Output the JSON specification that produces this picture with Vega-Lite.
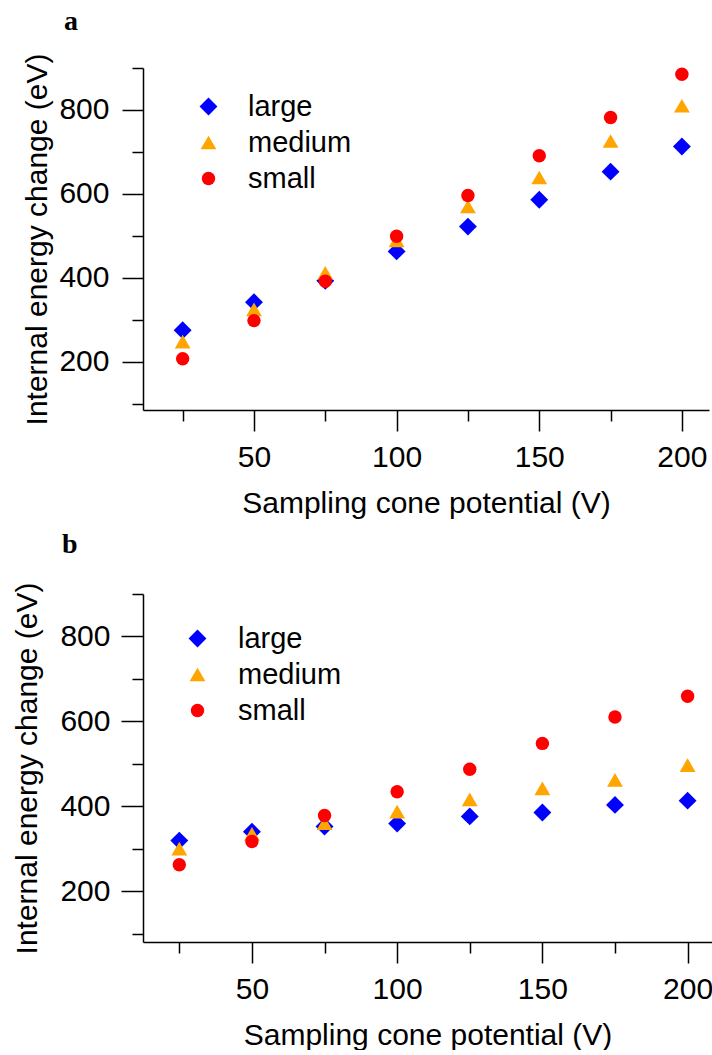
{
  "$schema": "https://vega.github.io/schema/vega-lite/v6.json",
  "padding": {"left": 12, "top": 8, "right": 0, "bottom": 0},
  "bounds": "flush",
  "spacing": 184,
  "datasets": {
    "panelA": [
      {"V": 25, "E": 275, "series": "large"},
      {"V": 50, "E": 342, "series": "large"},
      {"V": 75, "E": 393, "series": "large"},
      {"V": 100, "E": 463, "series": "large"},
      {"V": 125, "E": 522, "series": "large"},
      {"V": 150, "E": 586, "series": "large"},
      {"V": 175, "E": 653, "series": "large"},
      {"V": 200, "E": 713, "series": "large"},
      {"V": 25, "E": 248, "series": "medium"},
      {"V": 50, "E": 325, "series": "medium"},
      {"V": 75, "E": 412, "series": "medium"},
      {"V": 100, "E": 489, "series": "medium"},
      {"V": 125, "E": 570, "series": "medium"},
      {"V": 150, "E": 639, "series": "medium"},
      {"V": 175, "E": 726, "series": "medium"},
      {"V": 200, "E": 810, "series": "medium"},
      {"V": 25, "E": 207, "series": "small"},
      {"V": 50, "E": 298, "series": "small"},
      {"V": 75, "E": 392, "series": "small"},
      {"V": 100, "E": 499, "series": "small"},
      {"V": 125, "E": 596, "series": "small"},
      {"V": 150, "E": 691, "series": "small"},
      {"V": 175, "E": 782, "series": "small"},
      {"V": 200, "E": 885, "series": "small"}
    ],
    "panelB": [
      {"V": 25, "E": 319, "series": "large"},
      {"V": 50, "E": 340, "series": "large"},
      {"V": 75, "E": 352, "series": "large"},
      {"V": 100, "E": 359, "series": "large"},
      {"V": 125, "E": 376, "series": "large"},
      {"V": 150, "E": 385, "series": "large"},
      {"V": 175, "E": 403, "series": "large"},
      {"V": 200, "E": 413, "series": "large"},
      {"V": 25, "E": 300, "series": "medium"},
      {"V": 50, "E": 335, "series": "medium"},
      {"V": 75, "E": 360, "series": "medium"},
      {"V": 100, "E": 387, "series": "medium"},
      {"V": 125, "E": 416, "series": "medium"},
      {"V": 150, "E": 442, "series": "medium"},
      {"V": 175, "E": 462, "series": "medium"},
      {"V": 200, "E": 497, "series": "medium"},
      {"V": 25, "E": 262, "series": "small"},
      {"V": 50, "E": 317, "series": "small"},
      {"V": 75, "E": 378, "series": "small"},
      {"V": 100, "E": 434, "series": "small"},
      {"V": 125, "E": 487, "series": "small"},
      {"V": 150, "E": 548, "series": "small"},
      {"V": 175, "E": 610, "series": "small"},
      {"V": 200, "E": 659, "series": "small"}
    ]
  },
  "config": {
    "font": "Liberation Sans",
    "view": {"stroke": null},
    "axis": {
      "grid": false,
      "domainColor": "#000000",
      "domainWidth": 1.5,
      "tickColor": "#000000",
      "tickWidth": 1.5,
      "labelFont": "Liberation Sans",
      "labelFontSize": 30,
      "labelColor": "#000000",
      "titleFont": "Liberation Sans",
      "titleFontSize": 30,
      "titleFontWeight": "normal",
      "titleColor": "#000000",
      "labelOverlap": false
    },
    "legend": {
      "labelFont": "Liberation Sans",
      "labelFontSize": 29,
      "labelColor": "#000000",
      "padding": 0,
      "rowPadding": 6
    },
    "title": {
      "font": "Liberation Serif",
      "fontWeight": "bold",
      "fontSize": 28,
      "color": "#000000",
      "anchor": "start",
      "frame": "group",
      "baseline": "alphabetic"
    }
  },
  "resolve": {
    "scale": {"color": "independent", "shape": "independent", "size": "independent"},
    "legend": {"color": "independent", "shape": "independent", "size": "independent"}
  },
  "vconcat": [
    {
      "width": 566,
      "height": 342,
      "title": {"text": "a", "dx": -79, "offset": 17},
      "data": {"name": "panelA"},
      "mark": {"type": "point", "filled": true, "opacity": 1, "strokeWidth": 0},
      "encoding": {
        "x": {
          "field": "V", "type": "quantitative",
          "scale": {"domain": [11.1, 209.5], "nice": false, "zero": false},
          "axis": {
            "title": "Sampling cone potential (V)",
            "values": [25, 50, 75, 100, 125, 150, 175, 200],
            "tickSize": {"condition": {"test": "datum.value % 50 === 0", "value": 21}, "value": 11},
            "labelExpr": "datum.value % 50 === 0 ? datum.label : ''",
            "labelPadding": 11,
            "titlePadding": 16
          }
        },
        "y": {
          "field": "E", "type": "quantitative",
          "scale": {"domain": [85, 900], "nice": false, "zero": false},
          "axis": {
            "title": "Internal energy change (eV)",
            "values": [100, 200, 300, 400, 500, 600, 700, 800, 900],
            "tickSize": {"condition": {"test": "datum.value % 200 === 0", "value": 21}, "value": 11},
            "labelExpr": "datum.value % 200 === 0 ? datum.label : ''",
            "labelPadding": 13,
            "titlePadding": 6
          }
        },
        "color": {
          "field": "series", "type": "nominal",
          "scale": {"domain": ["large", "medium", "small"], "range": ["#0000ff", "#ffa500", "#ff0000"]},
          "legend": {"title": null, "orient": "none", "legendX": 51, "legendY": 24, "labelOffset": 25}
        },
        "shape": {
          "field": "series", "type": "nominal",
          "scale": {"domain": ["large", "medium", "small"], "range": ["diamond", "triangle-up", "circle"]},
          "legend": {"title": null, "orient": "none", "legendX": 51, "legendY": 24, "labelOffset": 25}
        },
        "size": {
          "field": "series", "type": "nominal",
          "scale": {"domain": ["large", "medium", "small"], "range": [320, 180, 170]},
          "legend": {"title": null, "orient": "none", "legendX": 51, "legendY": 24, "labelOffset": 25}
        }
      }
    },
    {
      "width": 569,
      "height": 348,
      "title": {"text": "b", "dx": -81, "offset": 20},
      "data": {"name": "panelB"},
      "mark": {"type": "point", "filled": true, "opacity": 1, "strokeWidth": 0},
      "encoding": {
        "x": {
          "field": "V", "type": "quantitative",
          "scale": {"domain": [12.5, 208.4], "nice": false, "zero": false},
          "axis": {
            "title": "Sampling cone potential (V)",
            "values": [25, 50, 75, 100, 125, 150, 175, 200],
            "tickSize": {"condition": {"test": "datum.value % 50 === 0", "value": 21}, "value": 11},
            "labelExpr": "datum.value % 50 === 0 ? datum.label : ''",
            "labelPadding": 11,
            "titlePadding": 16
          }
        },
        "y": {
          "field": "E", "type": "quantitative",
          "scale": {"domain": [80, 900], "nice": false, "zero": false},
          "axis": {
            "title": "Internal energy change (eV)",
            "values": [100, 200, 300, 400, 500, 600, 700, 800, 900],
            "tickSize": {"condition": {"test": "datum.value % 200 === 0", "value": 22}, "value": 11},
            "labelExpr": "datum.value % 200 === 0 ? datum.label : ''",
            "labelPadding": 11,
            "titlePadding": 17
          }
        },
        "color": {
          "field": "series", "type": "nominal",
          "scale": {"domain": ["large", "medium", "small"], "range": ["#0000ff", "#ffa500", "#ff0000"]},
          "legend": {"title": null, "orient": "none", "legendX": 40, "legendY": 30, "labelOffset": 26}
        },
        "shape": {
          "field": "series", "type": "nominal",
          "scale": {"domain": ["large", "medium", "small"], "range": ["diamond", "triangle-up", "circle"]},
          "legend": {"title": null, "orient": "none", "legendX": 40, "legendY": 30, "labelOffset": 26}
        },
        "size": {
          "field": "series", "type": "nominal",
          "scale": {"domain": ["large", "medium", "small"], "range": [320, 180, 170]},
          "legend": {"title": null, "orient": "none", "legendX": 40, "legendY": 30, "labelOffset": 26}
        }
      }
    }
  ]
}
